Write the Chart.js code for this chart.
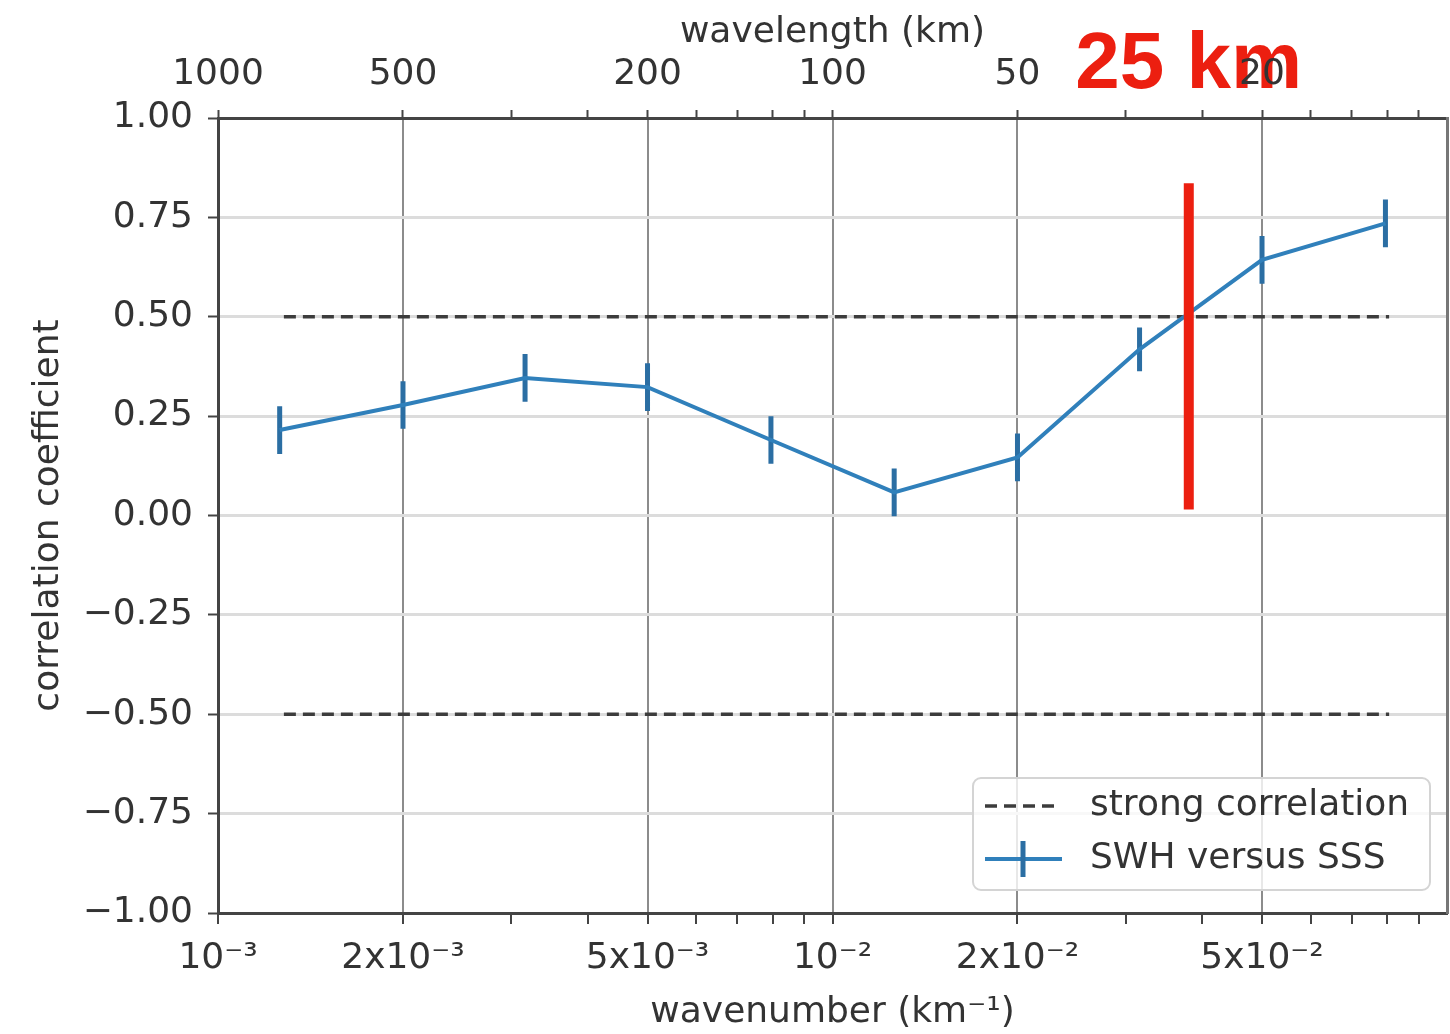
<!DOCTYPE html>
<html>
<head>
<meta charset="utf-8">
<script src="https://cdn.jsdelivr.net/npm/chart.js@4.4.1/dist/chart.umd.min.js"></script>
<style>
  html, body { margin: 0; padding: 0; background: #fff; }
  #chart { display: block; }
</style>
</head>
<body>
<canvas id="chart" width="1450" height="1034"></canvas>
<script>
// SWH vs SSS correlation per wavenumber band
const wavenumbers = [0.00126, 0.002, 0.00316, 0.005, 0.00794, 0.0126, 0.02, 0.0316, 0.05, 0.0794];
const correlation = [0.215, 0.278, 0.346, 0.323, 0.19, 0.058, 0.146, 0.418, 0.643, 0.735];
const corrError = [0.06, 0.06, 0.06, 0.06, 0.06, 0.06, 0.06, 0.055, 0.06, 0.06];

// "strong correlation" thresholds
const strongLevels = [0.5, -0.5];
const strongRange = [0.00128, 0.0805];

// red 25 km marker
const cutoffWavenumber = 0.038;
const cutoffSpan = [0.015, 0.836];
const cutoffText = "25 km";

const majorTicks = [0.001, 0.002, 0.005, 0.01, 0.02, 0.05];
const minorTicks = [0.003, 0.004, 0.006, 0.007, 0.008, 0.009, 0.03, 0.04, 0.06, 0.07, 0.08, 0.09];
const wavenumberLabels = ["10⁻³", "2x10⁻³", "5x10⁻³", "10⁻²", "2x10⁻²", "5x10⁻²"];
const wavelengthLabels = ["1000", "500", "200", "100", "50", "20"];
const yTicks = [-1, -0.75, -0.5, -0.25, 0, 0.25, 0.5, 0.75, 1];

const TEXT = "#333";
const AXIS = "#444";
const VGRID = "#8c8c8c";
const HGRID = "#dcdcdc";
const BLUE = "#3080bb";
const BLUE_DARK = "#2b6ea3";
const DASH = "#3c3c3c";
const RED = "#ec1f10";

Chart.defaults.font.family = "'DejaVu Sans', sans-serif";
Chart.defaults.font.size = 36;
Chart.defaults.color = TEXT;

const logTicks = [...majorTicks, ...minorTicks].sort((a, b) => a - b);
function setLogTicks(scale) {
  scale.ticks = logTicks.map((v) => ({ value: v, major: majorTicks.includes(v) }));
}
const isMajor = (c) => c.tick && majorTicks.includes(c.tick.value);

const errorSegments = [];
wavenumbers.forEach((k, i) => {
  errorSegments.push(
    { x: k, y: correlation[i] - corrError[i] },
    { x: k, y: correlation[i] + corrError[i] },
    { x: k, y: null }
  );
});

const strongSets = strongLevels.map((lvl) => ({
  label: "strong correlation",
  data: strongRange.map((k) => ({ x: k, y: lvl })),
  borderColor: DASH,
  borderWidth: 3.5,
  borderDash: [12, 7],
  pointRadius: 0,
  order: 3,
}));

// matplotlib-style legend box in the lower right of the plot
const boxLegend = {
  id: "boxLegend",
  afterDraw(chart) {
    const { ctx, chartArea: a } = chart;
    const w = 457, h = 112;
    const x0 = a.right - 17 - w, y0 = a.bottom - 23 - h;
    ctx.save();
    ctx.beginPath();
    ctx.roundRect(x0, y0, w, h, 8);
    ctx.fillStyle = "rgba(255,255,255,0.8)";
    ctx.fill();
    ctx.lineWidth = 2;
    ctx.strokeStyle = "#d4d4d4";
    ctx.stroke();

    const r1 = y0 + 28, r2 = y0 + 81;
    ctx.beginPath();
    ctx.setLineDash([12, 7]);
    ctx.lineWidth = 3.5;
    ctx.strokeStyle = DASH;
    ctx.moveTo(x0 + 12, r1);
    ctx.lineTo(x0 + 88, r1);
    ctx.stroke();
    ctx.setLineDash([]);

    ctx.beginPath();
    ctx.lineWidth = 4;
    ctx.strokeStyle = BLUE;
    ctx.moveTo(x0 + 12, r2);
    ctx.lineTo(x0 + 89, r2);
    ctx.stroke();
    ctx.beginPath();
    ctx.lineWidth = 5;
    ctx.strokeStyle = BLUE_DARK;
    ctx.moveTo(x0 + 50, r2 - 18);
    ctx.lineTo(x0 + 50, r2 + 18);
    ctx.stroke();

    ctx.fillStyle = TEXT;
    ctx.font = "36px 'DejaVu Sans', sans-serif";
    ctx.textBaseline = "middle";
    ctx.textAlign = "left";
    ctx.fillText(strongSets[0].label, x0 + 117, r1);
    ctx.fillText(chart.data.datasets[1].label, x0 + 117, r2);
    ctx.restore();
  },
};

// big red "25 km" note, drawn first so the axis labels sit on top
const cutoffLabel = {
  id: "cutoffLabel",
  beforeDraw(chart) {
    const { ctx } = chart;
    const x = chart.scales.x.getPixelForValue(cutoffWavenumber);
    ctx.save();
    ctx.font = "bold 80px 'Liberation Sans', Arial, sans-serif";
    ctx.fillStyle = RED;
    ctx.textAlign = "center";
    ctx.textBaseline = "alphabetic";
    ctx.fillText(cutoffText, x, 88);
    ctx.restore();
  },
};

new Chart(document.getElementById("chart"), {
  type: "line",
  data: {
    datasets: [
      {
        label: "25 km",
        data: cutoffSpan.map((v) => ({ x: cutoffWavenumber, y: v })),
        borderColor: RED,
        borderWidth: 10,
        borderCapStyle: "butt",
        pointRadius: 0,
        order: 0,
      },
      {
        label: "SWH versus SSS",
        data: wavenumbers.map((k, i) => ({ x: k, y: correlation[i] })),
        borderColor: BLUE,
        borderWidth: 4,
        pointRadius: 0,
        tension: 0,
        order: 1,
      },
      {
        label: "error",
        data: errorSegments,
        borderColor: BLUE_DARK,
        borderWidth: 5,
        pointRadius: 0,
        spanGaps: false,
        order: 2,
      },
      ...strongSets,
    ],
  },
  options: {
    responsive: false,
    animation: false,
    devicePixelRatio: 1,
    layout: { padding: 0 },
    plugins: { legend: { display: false }, tooltip: { enabled: false } },
    scales: {
      x: {
        type: "logarithmic",
        position: "bottom",
        min: 0.001,
        max: 0.1,
        afterBuildTicks: setLogTicks,
        afterFit: (s) => { s.height = 121; },
        ticks: {
          autoSkip: false,
          maxRotation: 0,
          padding: 13,
          color: TEXT,
          callback: (v) => {
            const i = majorTicks.indexOf(v);
            return i < 0 ? "" : wavenumberLabels[i];
          },
        },
        grid: {
          color: (c) => (isMajor(c) ? VGRID : "rgba(0,0,0,0)"),
          lineWidth: 2,
          tickColor: AXIS,
          tickWidth: 2,
          tickLength: 11,
        },
        border: { color: AXIS, width: 3 },
        title: { display: true, text: "wavenumber (km⁻¹)", color: TEXT, padding: { top: 0, bottom: 0 } },
      },
      x2: {
        type: "logarithmic",
        position: "top",
        min: 0.001,
        max: 0.1,
        afterBuildTicks: setLogTicks,
        afterFit: (s) => { s.height = 118; },
        ticks: {
          autoSkip: false,
          maxRotation: 0,
          padding: 14,
          color: TEXT,
          callback: (v) => {
            const i = majorTicks.indexOf(v);
            return i < 0 ? "" : wavelengthLabels[i];
          },
        },
        grid: { drawOnChartArea: false, tickColor: AXIS, tickWidth: 2, tickLength: 8 },
        border: { color: AXIS, width: 3 },
        title: { display: true, text: "wavelength (km)", color: TEXT, padding: { top: 11, bottom: 0 } },
      },
      y: {
        min: -1,
        max: 1,
        afterBuildTicks: (s) => { s.ticks = yTicks.map((v) => ({ value: v })); },
        afterFit: (s) => { s.width = 218; },
        ticks: {
          padding: 15,
          color: TEXT,
          callback: (v) => v.toFixed(2).replace("-", "−"),
        },
        grid: { color: HGRID, lineWidth: 3, tickColor: AXIS, tickWidth: 2, tickLength: 10 },
        border: { color: AXIS, width: 3 },
        title: { display: true, text: "correlation coefficient", color: TEXT, padding: { top: 27, bottom: 0 } },
      },
      y2: {
        position: "right",
        min: -1,
        max: 1,
        ticks: { display: false },
        grid: { display: false },
        border: { color: "#777", width: 3 },
        afterFit: (s) => { s.width = 3; },
      },
    },
  },
  plugins: [cutoffLabel, boxLegend],
});
</script>
</body>
</html>
